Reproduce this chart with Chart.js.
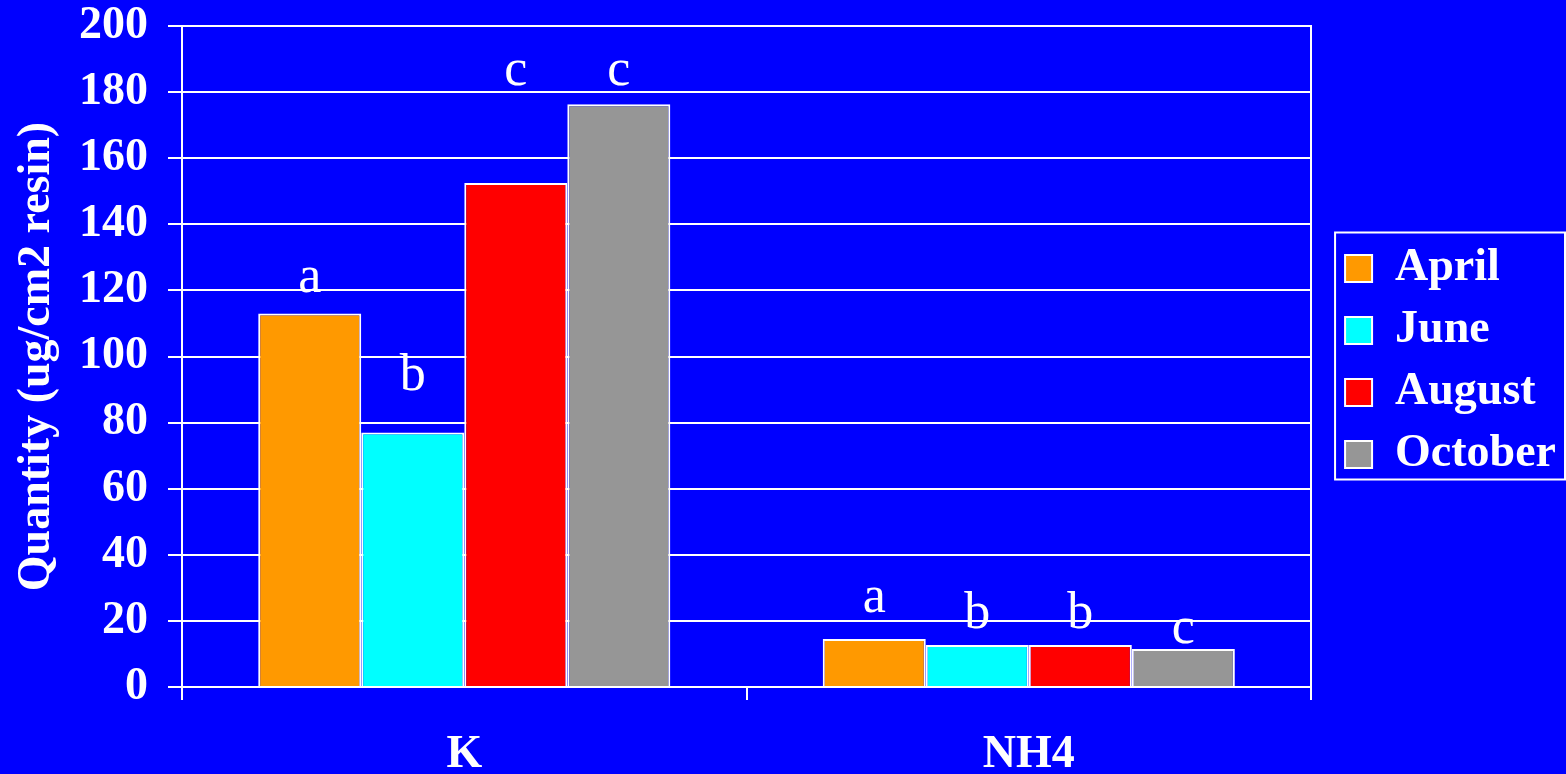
<!DOCTYPE html>
<html>
<head>
<meta charset="utf-8">
<script src="https://cdn.jsdelivr.net/npm/chart.js@4.4.1/dist/chart.umd.min.js"></script>
<style>
  html, body { margin: 0; padding: 0; background: #0000FF; }
  #wrap { width: 1566px; height: 774px; }
  canvas { display: block; }
</style>
</head>
<body>
<div id="wrap"><canvas id="chart" width="1566" height="774"></canvas></div>
<script>
// Categories and series
const nutrients = ['K', 'NH4'];
const months = ['April', 'June', 'August', 'October'];

const april = [113, 14.5];
const june = [77, 12.7];
const august = [152.5, 12.7];
const october = [176.3, 11.5];

// Significance letters for each month (K, NH4)
const aprilLetters = ['a', 'a'];
const juneLetters = ['b', 'b'];
const augustLetters = ['c', 'b'];
const octoberLetters = ['c', 'c'];

// Axis values at which each letter's baseline sits
const aprilLetterLevel = [119.5, 22.7];
const juneLetterLevel = [90, 17.9];
const augustLetterLevel = [182, 17.9];
const octoberLetterLevel = [182, 13.3];

const yTicks = [0, 20, 40, 60, 80, 100, 120, 140, 160, 180, 200];

const colours = ['#FF9900', '#00FFFF', '#FF0000', '#969696'];
const seriesValues = [april, june, august, october];
const seriesLetters = [aprilLetters, juneLetters, augustLetters, octoberLetters];
const seriesLevels = [aprilLetterLevel, juneLetterLevel, augustLetterLevel, octoberLetterLevel];

const SERIF = "'Liberation Serif', 'Times New Roman', 'DejaVu Serif', serif";

const background = {
  id: 'background',
  beforeDraw(chart) {
    const ctx = chart.ctx;
    ctx.save();
    ctx.fillStyle = '#0000FF';
    ctx.fillRect(0, 0, chart.width, chart.height);
    ctx.restore();
  }
};

// Letters above the bars
const letters = {
  id: 'letters',
  afterDatasetsDraw(chart) {
    const ctx = chart.ctx;
    const y = chart.scales.y;
    ctx.save();
    ctx.fillStyle = '#FFFFFF';
    ctx.font = "52px " + SERIF;
    ctx.textAlign = 'center';
    ctx.textBaseline = 'alphabetic';
    chart.data.datasets.forEach((ds, i) => {
      const meta = chart.getDatasetMeta(i);
      meta.data.forEach((bar, j) => {
        ctx.fillText(seriesLetters[i][j], bar.x, y.getPixelForValue(seriesLevels[i][j]));
      });
    });
    ctx.restore();
  }
};

// Frame around the legend
const legendFrame = {
  id: 'legendFrame',
  afterDraw(chart) {
    const lg = chart.legend;
    if (!lg || !lg.legendHitBoxes || !lg.legendHitBoxes.length) return;
    const boxes = lg.legendHitBoxes;
    const left = Math.min(...boxes.map(b => b.left)) - 10;
    const top = Math.min(...boxes.map(b => b.top)) - 13;
    const bottom = Math.max(...boxes.map(b => b.top + b.height)) + 2;
    const right = chart.width - 1;
    const ctx = chart.ctx;
    ctx.save();
    ctx.strokeStyle = '#FFFFFF';
    ctx.lineWidth = 2;
    ctx.strokeRect(left, top, right - left, bottom - top);
    ctx.restore();
  }
};

new Chart(document.getElementById('chart'), {
  type: 'bar',
  data: {
    labels: nutrients,
    datasets: months.map((m, i) => ({
      label: m,
      data: seriesValues[i],
      backgroundColor: colours[i],
      borderColor: '#FFFFFF',
      borderWidth: 2,
      categoryPercentage: 0.73,
      barPercentage: 1.0
    }))
  },
  options: {
    responsive: false,
    devicePixelRatio: 1,
    animation: false,
    layout: { padding: { left: 0, right: 0, top: 0, bottom: 0 } },
    plugins: {
      legend: {
        position: 'right',
        fullSize: false,
        title: {
          display: true,
          text: ' ',
          font: { size: 8, lineHeight: 1.25 },
          padding: 0
        },
        labels: {
          color: '#FFFFFF',
          font: { family: SERIF, size: 46, weight: 'bold' },
          boxWidth: 27,
          boxHeight: 27,
          padding: 16
        }
      },
      tooltip: { enabled: false }
    },
    scales: {
      x: {
        offset: true,
        grid: {
          display: true,
          drawOnChartArea: false,
          color: '#FFFFFF',
          lineWidth: 2,
          tickLength: 13
        },
        border: { display: true, color: '#FFFFFF', width: 2 },
        ticks: {
          color: '#FFFFFF',
          font: { family: SERIF, size: 46, weight: 'bold' },
          padding: 28
        },
        afterFit(scale) { scale.height = 87; }
      },
      y: {
        min: 0,
        max: 200,
        afterBuildTicks(scale) { scale.ticks = yTicks.map(v => ({ value: v })); },
        grid: {
          color: '#FFFFFF',
          lineWidth: 2,
          tickLength: 14
        },
        border: { display: true, color: '#FFFFFF', width: 2 },
        ticks: {
          color: '#FFFFFF',
          font: { family: SERIF, size: 46, weight: 'bold' },
          padding: 20
        },
        title: {
          display: true,
          text: 'Quantity (ug/cm2 resin)',
          color: '#FFFFFF',
          font: { family: SERIF, size: 46, weight: 'bold' },
          padding: { top: 10, bottom: 0 }
        },
        afterFit(scale) { scale.width = 182; scale.paddingTop = 26; }
      },
      frame: {
        position: 'right',
        display: true,
        grid: { display: false, drawTicks: false },
        ticks: { display: false },
        border: { display: true, color: '#FFFFFF', width: 2 },
        afterFit(scale) { scale.width = 18; }
      }
    }
  },
  plugins: [background, letters, legendFrame]
});
</script>
</body>
</html>
